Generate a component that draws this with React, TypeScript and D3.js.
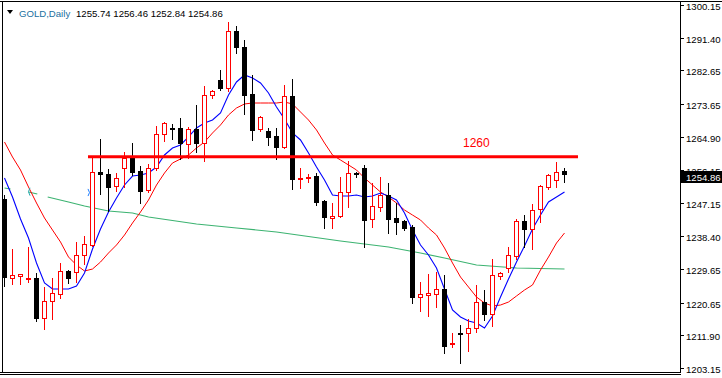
import React from "react";
import * as d3 from "d3";

const symbolTitle = "GOLD,Daily";
const headerValues = "1255.74 1256.46 1252.84 1254.86";

const opens = [1248.31,1227.20,1227.73,1227.06,1227.20,1216.51,1221.05,1222.92,1229.07,1228.80,
1233.34,1236.02,1255.52,1254.99,1251.78,1256.59,1259.27,1255.79,1250.71,1256.59,
1265.68,1267.28,1267.28,1263.01,1267.02,1263.27,1276.10,1280.11,1277.97,1293.20,
1288.93,1276.37,1267.02,1266.48,1265.14,1262.20,1275.83,1253.79,1254.05,1254.45,
1247.78,1243.23,1243.77,1250.18,1255.26,1256.59,1242.96,1246.17,1249.38,1243.23,
1242.43,1240.83,1222.12,1222.79,1222.92,1224.26,1209.43,1212.50,1212.50,1213.84,
1220.78,1217.58,1227.73,1229.87,1233.08,1242.43,1240.29,1245.63,1251.52,1253.39,1255.74];

const highs = [1249.38,1234.95,1228.40,1235.48,1228.53,1224.79,1227.20,1231.21,1229.33,1236.82,
1238.42,1259.53,1264.34,1256.33,1255.26,1260.87,1263.27,1257.13,1257.66,1267.82,
1268.89,1268.35,1269.96,1267.55,1273.43,1278.51,1277.44,1282.78,1295.61,1294.54,
1290.80,1281.45,1270.49,1267.28,1267.28,1278.77,1280.38,1256.59,1254.99,1255.26,
1248.04,1247.24,1254.19,1258.46,1255.52,1257.40,1252.59,1254.19,1252.59,1247.24,
1242.70,1241.36,1226.13,1228.27,1228.80,1228.00,1212.50,1214.64,1216.24,1225.33,
1223.99,1232.27,1228.80,1235.48,1242.96,1244.03,1246.97,1252.05,1254.99,1258.19,1256.46];

const lows = [1225.06,1225.59,1225.59,1226.13,1215.71,1213.57,1216.24,1221.85,1225.86,1226.13,
1230.94,1235.75,1249.65,1245.10,1250.45,1251.52,1254.72,1247.24,1250.18,1256.06,
1263.81,1264.34,1259.00,1259.27,1260.87,1258.46,1275.30,1277.44,1277.17,1287.33,
1271.02,1264.08,1266.48,1262.74,1259.00,1261.94,1250.98,1251.25,1252.85,1246.71,
1240.56,1240.56,1243.60,1246.17,1254.19,1235.48,1240.83,1245.10,1239.22,1238.96,
1240.02,1220.52,1218.38,1217.04,1219.45,1207.16,1208.76,1204.48,1207.69,1212.77,
1215.97,1214.37,1226.93,1228.80,1232.27,1235.48,1234.95,1242.16,1250.98,1251.52,1252.84];

const closes = [1227.46,1228.00,1228.27,1227.33,1216.51,1221.05,1223.19,1229.07,1227.20,1233.34,
1236.28,1255.52,1254.99,1251.52,1253.92,1259.27,1255.52,1250.45,1256.59,1265.68,
1268.62,1267.02,1263.27,1267.02,1263.27,1276.10,1277.17,1277.97,1293.20,1288.93,
1276.10,1266.75,1270.22,1264.88,1262.20,1275.83,1253.65,1254.05,1254.32,1247.51,
1243.50,1243.77,1250.18,1255.26,1254.99,1242.70,1246.44,1249.38,1242.96,1242.16,
1240.56,1222.12,1222.92,1223.06,1224.26,1209.03,1209.70,1212.37,1213.84,1220.78,
1217.58,1228.00,1228.53,1233.34,1242.43,1240.29,1245.37,1251.78,1254.72,1255.52,1254.86];

const blueMA = [1253.92,1248.84,1242.96,1237.89,1231.21,1225.86,1224.26,1224.26,1224.26,1225.06,
1228.53,1234.95,1240.29,1244.84,1248.58,1252.05,1254.45,1254.72,1255.26,1256.86,
1260.07,1261.94,1262.74,1264.88,1267.28,1268.62,1269.42,1271.29,1276.10,1279.58,
1281.45,1280.65,1279.31,1276.64,1272.89,1269.69,1265.95,1264.08,1260.60,1256.86,
1253.39,1249.38,1249.11,1249.11,1249.38,1248.84,1249.11,1249.91,1249.11,1248.04,
1244.57,1240.02,1236.02,1233.34,1229.87,1224.26,1218.65,1216.78,1215.71,1215.17,
1213.84,1217.04,1222.12,1226.93,1231.47,1235.75,1240.29,1244.03,1247.51,1248.84,1250.18];

const redMA = [1263.54,1259.53,1256.06,1251.52,1247.24,1243.23,1240.02,1236.82,1232.81,1230.67,
1229.07,1229.60,1231.47,1233.88,1236.02,1238.69,1241.90,1244.84,1248.04,1252.05,
1255.26,1257.93,1259.00,1260.07,1261.94,1263.54,1265.95,1268.09,1270.76,1272.63,
1273.70,1273.96,1273.96,1273.96,1273.96,1274.23,1273.70,1271.56,1269.42,1266.75,
1263.27,1260.07,1258.73,1257.40,1256.06,1253.92,1252.05,1250.18,1248.84,1247.24,
1245.37,1244.03,1242.70,1240.56,1238.69,1235.22,1231.21,1227.46,1224.79,1222.12,
1220.52,1219.72,1219.98,1220.78,1222.39,1223.99,1225.33,1229.33,1232.81,1236.55,1239.22];

const greenIdx = [0, 0.75, NaN, 3, 4.1, NaN, 5.4, 8, 10, 13, 16, 18, 24, 29, 34, 42, 48, 52, 55, 59, 64, 70];
const greenVals = [1251.25, 1250.98, NaN, 1250.18, 1249.65, NaN, 1248.84, 1247.51, 1246.44, 1245.10, 1244.57, 1243.50, 1241.63, 1240.56, 1239.49, 1237.08, 1235.48, 1233.88, 1232.54, 1230.67, 1229.87, 1229.60];

const priceTicks = [1300.15, 1291.40, 1282.65, 1273.65, 1264.90, 1256.15, 1247.15, 1238.40, 1229.65, 1220.65, 1211.90, 1203.15];
const levelValue = 1259.6;
const levelLabel = "1260";
const levelStartIdx = 10.5;
const levelEndIdx = 71.75;
const lastPrice = 1254.86;

const W = 722, H = 378;
const FONT = "'Liberation Sans', Arial, sans-serif";

export default function App() {
  const xS = d3.scaleLinear().domain([0, 70]).range([4, 564]);
  const yS = d3.scaleLinear().domain([1203.15, 1300.15]).range([368, 5]);
  const px = (i: number) => Math.round(xS(i));

  const lineGen = (vals: number[]) =>
    d3.line<number>().x((_, i) => px(i) + 0.5).y((v) => yS(v))(vals) || "";

  const greenPts = greenIdx.map((g, k) => [g, greenVals[k]] as [number, number]);
  const greenPath = d3.line<[number, number]>()
    .defined((d) => !isNaN(d[0]))
    .x((d) => xS(d[0]) + 0.5)
    .y((d) => yS(d[1]))(greenPts) || "";

  const candles = opens.map((o, i) => {
    const c = closes[i];
    const bull = c >= o;
    const cx = px(i);
    const yh = Math.round(yS(highs[i]));
    const yl = Math.round(yS(lows[i]));
    const yt = Math.round(yS(Math.max(o, c)));
    const yb = Math.round(yS(Math.min(o, c)));
    const col = bull ? "#ff0000" : "#000000";
    return (
      <g key={i}>
        <line x1={cx + 0.5} x2={cx + 0.5} y1={yh} y2={yl + 1} stroke={col} strokeWidth={1} />
        {bull ? (
          <rect x={cx - 1.5} y={yt + 0.5} width={4} height={Math.max(yb - yt, 1)} fill="#fff" stroke={col} strokeWidth={1} />
        ) : (
          <rect x={cx - 2} y={yt} width={5} height={Math.max(yb - yt, 1) + 1} fill={col} />
        )}
      </g>
    );
  });

  const ly = yS(levelValue);
  const lastY = yS(lastPrice);

  return (
    <svg width={W} height={H} style={{ position: "absolute", left: 0, top: 0, background: "#fff" }} fontFamily={FONT}>
      <rect x={0} y={0} width={W} height={H} fill="#fff" />
      {/* MAs */}
      <path d={greenPath} fill="none" stroke="#3cb371" strokeWidth={1.2} />
      <path d={lineGen(redMA)} fill="none" stroke="#ff0000" strokeWidth={1} />
      <path d={lineGen(blueMA)} fill="none" stroke="#0000ff" strokeWidth={1.1} />
      {/* small marks */}
      <path d={`M${xS(3) + 2},${yS(1251.3)} Q${xS(3) - 1},${yS(1250.3)} ${xS(3) + 2},${yS(1249.2)}`} fill="none" stroke="#20a8b0" strokeWidth={1} />
      <path d={`M${xS(10.5)},${yS(1251.0)} Q${xS(10.5) + 3},${yS(1250.0)} ${xS(10.5)},${yS(1249.1)}`} fill="none" stroke="#2080ff" strokeWidth={1} />
      {/* candles */}
      {candles}
      {/* level line */}
      <line x1={xS(levelStartIdx)} x2={xS(levelEndIdx)} y1={ly} y2={ly} stroke="#ff0000" strokeWidth={3} />
      <text x={463} y={ly - 10} fontSize={12} fill="#ff0000">{levelLabel}</text>
      {/* header */}
      <path d="M7,10 L13,10 L10,14 Z" fill="#000" />
      <text x={19} y={17} fontSize={9.6} fill="#2070a0">{symbolTitle}</text>
      <text x={76} y={17} fontSize={9.6} fill="#000">{headerValues}</text>
      {/* frame */}
      <line x1={0} x2={W} y1={1.5} y2={1.5} stroke="#000" strokeWidth={1} />
      <line x1={2.5} x2={2.5} y1={1} y2={373} stroke="#000" strokeWidth={1} />
      <line x1={680.5} x2={680.5} y1={1} y2={373} stroke="#000" strokeWidth={1} />
      <line x1={0} x2={681} y1={372.5} y2={372.5} stroke="#000" strokeWidth={1} />
      <line x1={0} x2={681} y1={374.5} y2={374.5} stroke="#000" strokeWidth={1} />
      {/* axis */}
      {priceTicks.map((t) => {
        const y = Math.round(yS(t)) + 0.5;
        return (
          <g key={t}>
            <line x1={681} x2={684} y1={y} y2={y} stroke="#000" />
            <text x={686} y={y + 4} fontSize={9.6} fill="#000">{t.toFixed(2)}</text>
          </g>
        );
      })}
      <rect x={681} y={Math.round(lastY) - 3} width={41} height={12} fill="#000" />
      <text x={686} y={Math.round(lastY) + 6.5} fontSize={9.6} fill="#fff">{lastPrice.toFixed(2)}</text>
    </svg>
  );
}
